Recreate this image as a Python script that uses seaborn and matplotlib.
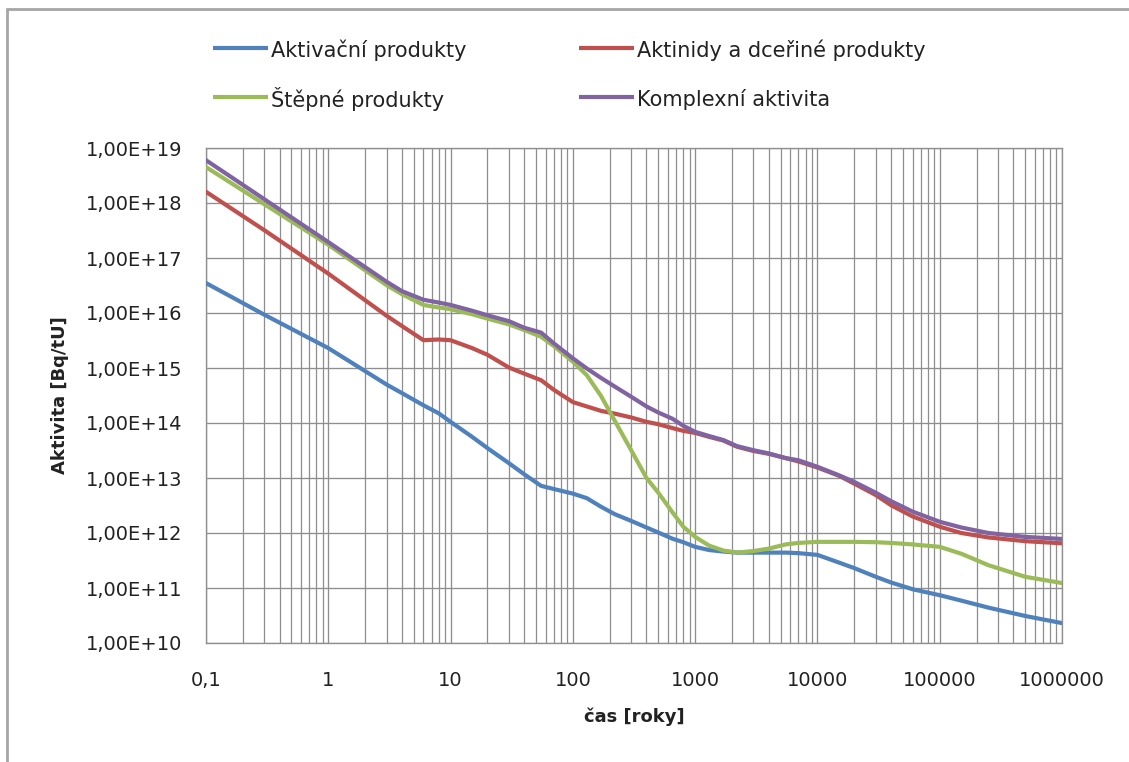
import numpy as np
import pandas as pd
import matplotlib
matplotlib.use("Agg")
import matplotlib.pyplot as plt
import seaborn as sns
from matplotlib.ticker import FixedLocator, LogLocator, NullLocator, FuncFormatter, NullFormatter
from matplotlib.lines import Line2D

# ---------------- data ----------------
years = [0.1, 0.3, 1, 3, 4, 6, 8, 10, 15, 20, 30, 40, 55, 70, 100, 130, 170, 220, 300, 400,
         500, 650, 800, 1000, 1300, 1700, 2200, 3000, 4000, 5500, 7000, 10000, 15000, 20000,
         30000, 40000, 60000, 100000, 150000, 250000, 500000, 1000000]

aktivacni = [3.5e16, 9.3e15, 2.3e15, 5.0e14, 3.5e14, 2.1e14, 1.5e14, 1.05e14, 5.6e13, 3.5e13,
             1.86e13, 1.17e13, 7.2e12, 6.3e12, 5.2e12, 4.3e12, 3.0e12, 2.2e12, 1.66e12, 1.26e12,
             1.02e12, 7.9e11, 6.8e11, 5.6e11, 4.9e11, 4.6e11, 4.4e11, 4.4e11, 4.4e11, 4.4e11,
             4.3e11, 4.0e11, 2.9e11, 2.3e11, 1.6e11, 1.26e11, 9.5e10, 7.4e10, 5.9e10, 4.4e10,
             3.1e10, 2.3e10]
aktinidy = [1.6e18, 3.2e17, 5.2e16, 8.9e15, 5.8e15, 3.2e15, 3.3e15, 3.2e15, 2.3e15, 1.74e15,
            1.02e15, 7.9e14, 6.0e14, 4.0e14, 2.4e14, 2.0e14, 1.66e14, 1.48e14, 1.26e14, 1.05e14,
            9.5e13, 8.1e13, 7.2e13, 6.6e13, 5.6e13, 4.8e13, 3.7e13, 3.1e13, 2.75e13, 2.3e13,
            2.0e13, 1.55e13, 1.1e13, 7.9e12, 4.9e12, 3.2e12, 2.0e12, 1.3e12, 1.0e12, 8.3e11,
            7.1e11, 6.5e11]
stepne = [4.5e18, 9.5e17, 1.74e17, 3.2e16, 2.2e16, 1.4e16, 1.26e16, 1.17e16, 9.5e15, 7.9e15,
          6.2e15, 4.9e15, 3.7e15, 2.5e15, 1.3e15, 7.4e14, 3.1e14, 1.1e14, 3.2e13, 1.0e13,
          5.4e12, 2.4e12, 1.3e12, 8.5e11, 5.9e11, 4.8e11, 4.4e11, 4.7e11, 5.2e11, 6.2e11,
          6.6e11, 6.9e11, 6.9e11, 6.9e11, 6.8e11, 6.6e11, 6.2e11, 5.6e11, 4.2e11, 2.6e11,
          1.6e11, 1.23e11]
komplexni = [6.0e18, 1.17e18, 1.95e17, 3.7e16, 2.5e16, 1.74e16, 1.55e16, 1.4e16, 1.1e16, 9.1e15,
             7.1e15, 5.4e15, 4.4e15, 2.8e15, 1.5e15, 9.8e14, 6.6e14, 4.6e14, 3.0e14, 2.0e14,
             1.55e14, 1.2e14, 8.9e13, 6.9e13, 5.8e13, 4.9e13, 3.8e13, 3.2e13, 2.8e13, 2.3e13,
             2.1e13, 1.6e13, 1.12e13, 8.5e12, 5.4e12, 3.8e12, 2.45e12, 1.6e12, 1.26e12, 1.0e12,
             8.5e11, 7.8e11]

series_names = ["Aktivační produkty", "Aktinidy a dceřiné produkty",
                "Štěpné produkty", "Komplexní aktivita"]
series_values = [aktivacni, aktinidy, stepne, komplexni]
colors = ["#4F81BD", "#C0504D", "#9BBB59", "#8064A2"]

x_ticks = [0.1, 1, 10, 100, 1000, 10000, 100000, 1000000]
x_tick_labels = ["0,1", "1", "10", "100", "1000", "10000", "100000", "1000000"]
y_ticks = [1e10, 1e11, 1e12, 1e13, 1e14, 1e15, 1e16, 1e17, 1e18, 1e19]

x_label = "čas [roky]"
y_label = "Aktivita [Bq/tU]"

# ---------------- dataframe ----------------
rows = []
for name, vals in zip(series_names, series_values):
    for x, v in zip(years, vals):
        rows.append({"cas": x, "aktivita": v, "serie": name})
df = pd.DataFrame(rows)

# ---------------- style ----------------
sns.set_style("white")
plt.rcParams["font.family"] = ["DejaVu Sans"]

W, H = 1129, 762
fig = plt.figure(figsize=(W / 100, H / 100), dpi=100)
ax = fig.add_axes([206 / W, 1 - 643 / H, (1062 - 206) / W, (643 - 148) / H])

grid_col = "#8E8E8E"
text_col = "#222222"

sns.lineplot(data=df, x="cas", y="aktivita", hue="serie", hue_order=series_names,
             palette=colors, estimator=None, sort=False, linewidth=3.0,
             ax=ax, legend=False, zorder=3)
for ln in ax.get_lines():
    ln.set_solid_joinstyle("round")
    ln.set_solid_capstyle("round")

ax.set_xscale("log")
ax.set_yscale("log")
ax.set_xlim(0.1, 1e6)
ax.set_ylim(1e10, 1e19)

ax.xaxis.set_major_locator(FixedLocator(x_ticks))
ax.xaxis.set_major_formatter(FuncFormatter(
    lambda v, p: x_tick_labels[int(round(np.log10(v))) + 1]))
ax.xaxis.set_minor_locator(LogLocator(base=10, subs=range(2, 10), numticks=100))
ax.xaxis.set_minor_formatter(NullFormatter())
ax.yaxis.set_major_locator(FixedLocator(y_ticks))
ax.yaxis.set_major_formatter(FuncFormatter(lambda v, p: "1,00E+%d" % int(round(np.log10(v)))))
ax.yaxis.set_minor_locator(NullLocator())

ax.grid(True, which="major", axis="both", color=grid_col, linewidth=0.95, zorder=1)
ax.grid(True, which="minor", axis="x", color=grid_col, linewidth=0.9, zorder=1)
ax.set_axisbelow(True)

for s in ax.spines.values():
    s.set_color(grid_col)
    s.set_linewidth(0.95)

tick_fs = 14
ax.tick_params(axis="both", which="major", direction="out", length=6, width=0.95,
               color=grid_col, labelsize=tick_fs, labelcolor=text_col)
ax.tick_params(axis="x", which="major", pad=14)
ax.tick_params(axis="y", which="major", pad=11)
ax.tick_params(axis="both", which="minor", length=0)

ax.set_xlabel(x_label, fontsize=13, fontweight="bold", color=text_col, labelpad=13)
ax.set_ylabel(y_label, fontsize=13, fontweight="bold", color=text_col, labelpad=12)

# ---------------- legend (two rows, two columns) ----------------
leg_fs = 15
leg_rows_y = [48, 97]
leg_cols = [(213, 268, 271), (579, 634, 637)]
leg_order = [(0, 0, 0), (1, 0, 1), (2, 1, 0), (3, 1, 1)]  # (series, row, col)
for si, r, c in leg_order:
    x0, x1, xt = leg_cols[c]
    yy = 1 - leg_rows_y[r] / H
    fig.add_artist(Line2D([x0 / W, x1 / W], [yy, yy], transform=fig.transFigure,
                          color=colors[si], linewidth=3.0, solid_capstyle="butt"))
    fig.text(xt / W, yy, series_names[si], ha="left", va="center_baseline",
             fontsize=leg_fs, color=text_col)

# ---------------- outer border ----------------
border_col = "#A6A6A6"
fig.add_artist(Line2D([7 / W, 1], [1 - 9 / H, 1 - 9 / H], transform=fig.transFigure,
                      color=border_col, linewidth=2.0))
fig.add_artist(Line2D([7 / W, 7 / W], [0, 1 - 9 / H], transform=fig.transFigure,
                      color=border_col, linewidth=2.0))

fig.savefig("out.png", dpi=100)
